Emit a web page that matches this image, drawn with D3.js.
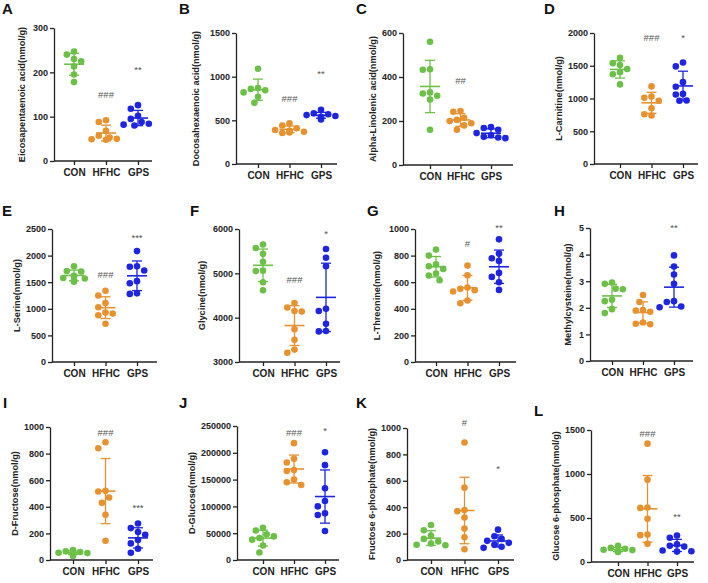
<!DOCTYPE html>
<html><head><meta charset="utf-8">
<script src="https://cdn.jsdelivr.net/npm/d3@7"></script>
<style>
html,body{margin:0;padding:0;background:#fff;}
svg{display:block;font-family:Arial,"Liberation Sans",sans-serif;}
</style></head>
<body>
<script>
// ---------- DATA ----------
const groups = ["CON", "HFHC", "GPS"];
const panelLetters = ["A","B","C","D","E","F","G","H","I","J","K","L"];
const yLabels = [
  "Eicosapentaenoic acid(nmol/g)", "Docosahexaenoic acid(nmol/g)", "Alpha-Linolenic acid(nmol/g)", "L-Carnitine(nmol/g)",
  "L-Serine(nmol/g)", "Glycine(nmol/g)", "L-Threonine(nmol/g)", "Methylcysteine(nmol/g)",
  "D-Fructose(nmol/g)", "D-Glucose(nmol/g)", "Fructose 6-phosphate(nmol/g)", "Glucose 6-phosphate(nmol/g)"
];
const yDomains = [[0,300],[0,1500],[0,600],[0,2000],[0,2500],[3000,6000],[0,1000],[0,5],[0,1000],[0,250000],[0,1000],[0,1500]];
const yTicks = [
  [0,100,200,300],[0,500,1000,1500],[0,200,400,600],[0,500,1000,1500,2000],
  [0,500,1000,1500,2000,2500],[3000,4000,5000,6000],[0,200,400,600,800,1000],[0,1,2,3,4,5],
  [0,200,400,600,800,1000],[0,50000,100000,150000,200000,250000],[0,200,400,600,800,1000],[0,500,1000,1500]
];
// values per panel: [CON, HFHC, GPS]
const valuesA = [[247,240,230,225,213,195,178],[92,88,68,57,53,50,49,48],[126,118,102,95,88,84,82,80]];
const valuesB = [[1090,870,860,845,820,770,700],[465,440,410,390,380,370,360,355],[620,580,570,560,550,540,530,510]];
const valuesC = [[560,435,433,330,325,315,298,160],[245,242,215,205,200,190,180,160],[172,168,160,145,135,128,125,122]];
const valuesD = [[1620,1540,1510,1450,1400,1370,1215],[1185,1030,1010,965,850,760,740],[1550,1490,1250,1180,1070,1060,970,965]];
const valuesE = [[1800,1710,1700,1620,1580,1570,1530,1510],[1340,1250,1110,1030,930,910,880,720],[2085,1800,1790,1720,1520,1480,1290,1280]];
const valuesF = [[5650,5570,5440,5260,5060,5050,4800,4620],[4330,4230,4150,4140,3740,3500,3280,3210],[5550,5350,5160,4200,4150,3860,3700,3690]];
const valuesG = [[845,800,735,720,700,665,650,615],[725,652,560,550,540,530,462,442],[922,815,780,760,670,640,600,542]];
const valuesH = [[2.95,2.90,2.72,2.70,2.30,2.25,1.95,1.80],[2.48,2.22,1.92,1.90,1.85,1.45,1.40,1.38],[3.97,3.55,3.25,2.90,2.25,2.22,2.05,2.02]];
const valuesI = [[75,65,60,55,52,50,45,30],[885,840,520,515,470,430,340,145],[275,240,210,190,150,125,85,55]];
const valuesJ = [[60000,55000,48000,44000,41000,38000,27000,14000],[218000,189000,182000,168000,166000,150000,145000,140000],[201000,177000,134000,110000,100000,87000,84000,54000]];
const valuesK = [[265,225,185,160,140,125,115,112],[890,548,378,370,322,238,172,82],[230,180,160,145,130,115,100,92]];
const valuesL = [[185,160,150,140,135,125,120,115],[1345,936,620,615,492,312,305,208],[300,275,200,185,175,130,122,118]];
const panelValues = [valuesA,valuesB,valuesC,valuesD,valuesE,valuesF,valuesG,valuesH,valuesI,valuesJ,valuesK,valuesL];
// significance marks and the value level they are drawn at
const sigLabels = [
  ["","###","**"],["","###","**"],["","##",""],["","###","*"],
  ["","###","***"],["","###","*"],["","#","**"],["","","**"],
  ["","###","***"],["","###","*"],["","#","*"],["","###","**"]
];
const sigLevels = [
  [0,150,207],[0,744,1029],[0,382,0],[0,1930,1930],
  [0,1633,2337],[0,4857,5887],[0,887,1008],[0,0,5.0],
  [0,955,395],[0,237000,242000],[0,1038,689],[0,1458,511]
];

// ---------- LAYOUT (not data) ----------
const layout = [
  {x:54, top:28, bot:161, c0:74, step:32, xEnd:152, lx:22, letX:2, letY:14},
  {x:236, top:33, bot:164, c0:258, step:31.5, xEnd:337, lx:196, letX:179, letY:14},
  {x:403, top:33, bot:165, c0:430, step:30.5, xEnd:513, lx:378, letX:356, letY:14},
  {x:594, top:33, bot:164, c0:620, step:31.5, xEnd:698, lx:569, letX:544, letY:14},
  {x:52, top:229, bot:362, c0:74, step:31.5, xEnd:157, lx:17, letX:2, letY:216},
  {x:239, top:229, bot:362, c0:263, step:31.5, xEnd:340, lx:202, letX:190, letY:216},
  {x:415, top:229, bot:362, c0:436, step:31.5, xEnd:516, lx:377, letX:367, letY:216},
  {x:590, top:228, bot:361, c0:612, step:31, xEnd:693, lx:568, letX:554, letY:216},
  {x:50, top:427, bot:560, c0:73, step:32.5, xEnd:153, lx:17, letX:3, letY:408},
  {x:237, top:426, bot:560, c0:263, step:31, xEnd:339, lx:194, letX:179, letY:408},
  {x:407, top:428, bot:560, c0:431, step:33.5, xEnd:514, lx:380, letX:356, letY:408},
  {x:591, top:430, bot:562, c0:618, step:29.5, xEnd:694, lx:563, letX:534, letY:416}
];
const colors = {CON:"#6cc048", HFHC:"#e8912f", GPS:"#1d25e0"};
const R = 3.3;

const svg = d3.select("body").append("svg").attr("width",708).attr("height",583);

panelValues.forEach((vals, pi) => {
  const L = layout[pi];
  const g = svg.append("g");
  const y = d3.scaleLinear().domain(yDomains[pi]).range([L.bot, L.top]);
  const x = d3.scalePoint().domain(groups).range([L.c0, L.c0 + 2*L.step]);

  // panel letter
  g.append("text").attr("x",L.letX).attr("y",L.letY).text(panelLetters[pi])
    .attr("font-size",15).attr("font-weight","bold").attr("fill","#111");

  // y axis
  const ya = d3.axisLeft(y).tickValues(yTicks[pi]).tickFormat(d3.format("d")).tickSize(4).tickSizeOuter(0);
  const gy = g.append("g").attr("transform",`translate(${L.x},0)`).call(ya);
  gy.select(".domain").attr("stroke","#222").attr("stroke-width",1.3);
  gy.selectAll(".tick line").attr("stroke","#222").attr("stroke-width",1.3);
  gy.selectAll(".tick text").attr("font-size",9).attr("font-weight","bold").attr("fill","#222")
    .attr("font-family","Arial,'Liberation Sans',sans-serif").attr("x",-6);
  const tickLeft = L.x + d3.min(gy.selectAll(".tick text").nodes(), n => n.getBBox().x);

  // x axis
  const xa = d3.axisBottom(x).tickSize(4).tickSizeOuter(0);
  const gx = g.append("g").attr("transform",`translate(0,${L.bot})`).call(xa);
  gx.select(".domain").remove();
  gx.append("line").attr("x1",L.x).attr("x2",L.xEnd).attr("y1",0).attr("y2",0)
    .attr("stroke","#222").attr("stroke-width",1.3);
  gx.selectAll(".tick line").attr("stroke","#222").attr("stroke-width",1.3);
  gx.selectAll(".tick text").attr("font-size",10).attr("font-weight","bold").attr("fill","#222")
    .attr("font-family","Arial,'Liberation Sans',sans-serif").attr("y",8);

  // y label
  const lx = Math.min(L.lx, tickLeft - 9);
  g.append("text").attr("transform",`translate(${lx},${(L.top+L.bot)/2}) rotate(-90)`)
    .attr("text-anchor","middle").attr("dy","0.35em").attr("font-size",9.2).attr("font-weight","bold")
    .attr("fill","#222").text(yLabels[pi]);

  groups.forEach((grp, gi) => {
    const v = vals[gi];
    const cx = x(grp);
    const col = colors[grp];
    const mean = d3.mean(v), sd = d3.deviation(v);
    // beeswarm placement
    const placed = [];
    const sorted = v.slice().sort((a,b)=>b-a);
    sorted.forEach(val => {
      const py = y(val);
      const cands = [0,-1,1,-2,2,-3,3,-4,4];
      let off = 0;
      for (const k of cands) {
        const ox = k*3.6;
        if (placed.every(p => Math.hypot(p.x-ox, p.y-py) >= 2*R+0.4)) { off = ox; break; }
      }
      placed.push({x:off, y:py});
    });
    g.selectAll(null).data(placed).join("circle")
      .attr("cx", d => cx + d.x).attr("cy", d => d.y).attr("r", R).attr("fill", col);
    // mean & SD
    const eg = g.append("g").attr("stroke",col).attr("stroke-width",1.3).attr("fill","none");
    eg.append("line").attr("x1",cx-10).attr("x2",cx+10).attr("y1",y(mean)).attr("y2",y(mean)).attr("stroke-width",1.6);
    eg.append("line").attr("x1",cx).attr("x2",cx).attr("y1",y(mean-sd)).attr("y2",y(mean+sd));
    eg.append("line").attr("x1",cx-5).attr("x2",cx+5).attr("y1",y(mean+sd)).attr("y2",y(mean+sd));
    eg.append("line").attr("x1",cx-5).attr("x2",cx+5).attr("y1",y(mean-sd)).attr("y2",y(mean-sd));
    // significance
    const s = sigLabels[pi][gi];
    if (s) {
      g.append("text").attr("x",cx).attr("y",y(sigLevels[pi][gi])).attr("dy","0.35em")
        .attr("text-anchor","middle").attr("font-size",9.5).attr("fill","#555").text(s);
    }
  });
});
</script>
</body></html>
